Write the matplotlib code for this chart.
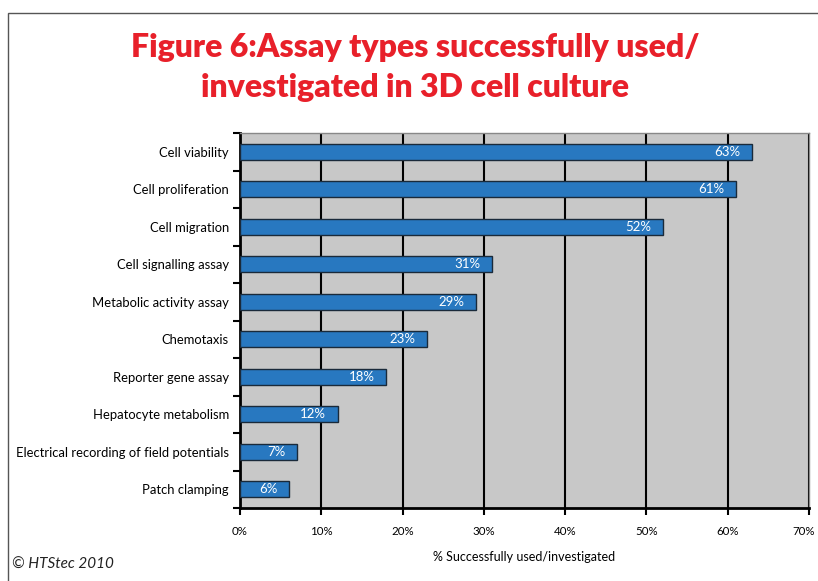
import matplotlib
matplotlib.use("Agg")
import matplotlib.pyplot as plt
import matplotlib.transforms as mtransforms
from matplotlib.patches import Rectangle

categories = [
    "Cell viability",
    "Cell proliferation",
    "Cell migration",
    "Cell signalling assay",
    "Metabolic activity assay",
    "Chemotaxis",
    "Reporter gene assay",
    "Hepatocyte metabolism",
    "Electrical recording of field potentials",
    "Patch clamping",
]
values = [63, 61, 52, 31, 29, 23, 18, 12, 7, 6]
xticks = [0, 10, 20, 30, 40, 50, 60, 70]
xtick_labels = ["0%", "10%", "20%", "30%", "40%", "50%", "60%", "70%"]

plt.rcParams["font.family"] = ["Lato", "DejaVu Sans"]

W, H = 818, 581
fig = plt.figure(figsize=(W / 100, H / 100), dpi=100)

# outer frame (only left and top edges fall inside the canvas)
fig.add_artist(Rectangle((8 / W, -0.1), 1.2, (H - 13) / H + 0.1,
                         transform=fig.transFigure, fill=False,
                         edgecolor="#555555", linewidth=1.0))

ax = fig.add_axes([240 / W, 1 - 508 / H, (809 - 240) / W, (508 - 133) / H])
ax.set_facecolor("#c8c8c8")

n = len(categories)
ypos = list(range(n))[::-1]
ax.barh(ypos, values, height=0.43, color="#2878c0", edgecolor="#1a2a3a",
        linewidth=1.0, zorder=3)

for y, v in zip(ypos, values):
    ax.text(v - 1.4, y, f"{v}%", ha="right", va="center", color="white",
            fontsize=9.5, zorder=4)

ax.set_xlim(0, 70)
ax.set_ylim(-0.5, n - 0.5)
ax.set_xticks(xticks)
ax.set_xticklabels(xtick_labels, fontsize=8.3)
ax.set_yticks(ypos)
ax.set_yticklabels(categories, fontsize=9.4)
ax.tick_params(axis="y", length=0, pad=8)
ax.set_yticks([i + 0.5 for i in range(-1, n)], minor=True)
ax.tick_params(axis="y", which="minor", length=5, width=1.5, color="black")
ax.tick_params(axis="x", length=5, width=1.5, color="black", pad=8)

# nudge the last tick label so it stays inside the canvas
last = ax.get_xticklabels()[-1]
last.set_transform(last.get_transform() +
                   mtransforms.ScaledTranslation(-5 / 100, 0, fig.dpi_scale_trans))

ax.xaxis.grid(True, color="black", linewidth=1.5, zorder=1)
ax.set_axisbelow(True)

for s in ["left", "bottom"]:
    ax.spines[s].set_linewidth(2)
    ax.spines[s].set_color("black")
for s in ["top", "right"]:
    ax.spines[s].set_linewidth(1)
    ax.spines[s].set_color("#888888")

ax.set_xlabel("% Successfully used/investigated", fontsize=9, labelpad=10)

fig.text(415 / W, 1 - 48 / H, "Figure 6:Assay types successfully used/",
         ha="center", va="center", color="#e8202a", fontsize=23,
         fontweight="heavy")
fig.text(415 / W, 1 - 88 / H, "investigated in 3D cell culture",
         ha="center", va="center", color="#e8202a", fontsize=23,
         fontweight="heavy")

fig.text(12 / W, 1 - 565 / H, "© HTStec 2010", ha="left", va="center",
         fontsize=11, style="italic", color="#222222")

fig.savefig("out.png", dpi=100)
